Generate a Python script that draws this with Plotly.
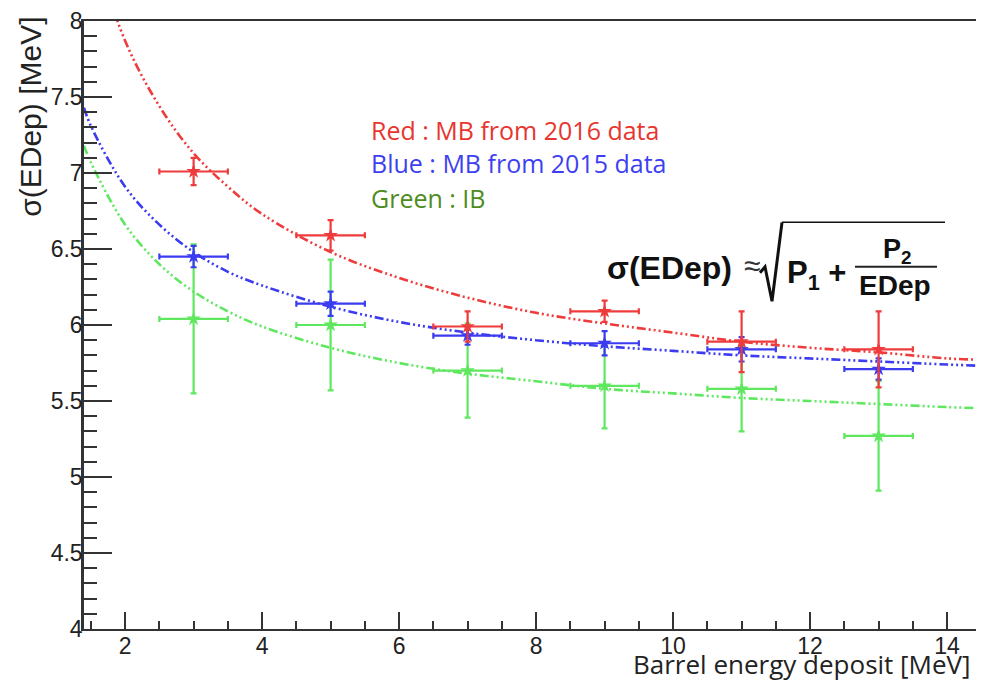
import plotly.graph_objects as go

# ---------------- data ----------------
x_points = [3, 5, 7, 9, 11, 13]
x_err = [0.5, 0.5, 0.5, 0.5, 0.5, 0.5]

red_y = [7.01, 6.59, 5.99, 6.09, 5.89, 5.84]
red_err = [0.09, 0.10, 0.10, 0.07, 0.20, 0.25]

blue_y = [6.45, 6.14, 5.93, 5.88, 5.84, 5.71]
blue_err = [0.07, 0.08, 0.06, 0.08, 0.08, 0.07]

green_y = [6.04, 6.00, 5.70, 5.60, 5.58, 5.27]
green_err = [0.49, 0.43, 0.31, 0.28, 0.28, 0.36]

# fitted curves sigma = sqrt(P1 + P2/EDep)
curve_x = [1.4, 1.5, 2, 2.5, 3, 3.5, 4, 5, 6, 7, 8, 9, 10, 11, 12, 13, 14, 14.6]
red_fit = [8.73, 8.55, 7.87, 7.44, 7.13, 6.91, 6.73, 6.48, 6.31, 6.18, 6.08, 6.01,
           5.95, 5.89, 5.85, 5.82, 5.78, 5.77]
blue_fit = [7.43, 7.31, 6.91, 6.66, 6.48, 6.35, 6.26, 6.12, 6.02, 5.95, 5.90, 5.86,
            5.83, 5.80, 5.78, 5.76, 5.74, 5.73]
green_fit = [7.18, 7.07, 6.66, 6.40, 6.22, 6.09, 5.99, 5.85, 5.75, 5.68, 5.63, 5.58,
             5.55, 5.52, 5.50, 5.48, 5.46, 5.45]

x_tickvals = [2, 4, 6, 8, 10, 12, 14]
x_ticktext = ["2", "4", "6", "8", "10", "12", "14"]
y_tickvals = [4, 4.5, 5, 5.5, 6, 6.5, 7, 7.5, 8]
y_ticktext = ["4", "4.5", "5", "5.5", "6", "6.5", "7", "7.5", "8"]

# ---------------- styling ----------------
OFF = 8  # page body margin
W, H = 984 - OFF, 682 - OFF
ML, MR, MT, MB = 84 - OFF, 0, 5, 53
PW, PH = W - ML - MR, H - MT - MB

RED = "#ef3b3b"
BLUE = "#3b3bef"
GREEN = "#5fe85f"
DASH = "9px,3px,2px,3px,2px,3px,2px,3px"
AX = "#333333"
FONT = "Liberation Sans, Arial, sans-serif"
TXT = "Open Sans, Lato, sans-serif"


def px(x):
    return (x - OFF - ML) / PW


def py(y):
    return (H - MB - (y - OFF)) / PH


fig = go.Figure()

for fy, col in [(red_fit, RED), (blue_fit, BLUE), (green_fit, GREEN)]:
    fig.add_trace(go.Scatter(
        x=curve_x, y=fy, mode="lines",
        line=dict(color=col, width=2.6, dash=DASH, shape="spline", smoothing=1.0),
        hoverinfo="skip"))

for yy, ee, col in [(green_y, green_err, GREEN), (blue_y, blue_err, BLUE), (red_y, red_err, RED)]:
    fig.add_trace(go.Scatter(
        x=x_points, y=yy, mode="markers",
        marker=dict(symbol="star", size=11, color=col),
        error_x=dict(type="data", array=x_err, color=col, thickness=2.2, width=3),
        error_y=dict(type="data", array=ee, color=col, thickness=2.2, width=3)))

annotations = [
    dict(text="Red : MB from 2016 data", x=px(369), y=py(123), xanchor="left", yanchor="middle",
         font=dict(family=TXT, size=25, color="#e8352f")),
    dict(text="Blue : MB from 2015 data", x=px(369), y=py(157), xanchor="left", yanchor="middle",
         font=dict(family=TXT, size=25, color="#3f3ff2")),
    dict(text="Green : IB", x=px(369), y=py(192), xanchor="left", yanchor="middle",
         font=dict(family=TXT, size=25, color="#4d8c1c")),
    dict(text="Barrel energy deposit [MeV]", x=px(973), y=py(664), xanchor="right", yanchor="middle",
         font=dict(family=TXT, size=26, color="#222222")),
    dict(text="σ(EDep) [MeV]", x=px(31), y=py(110), xanchor="center", yanchor="middle",
         textangle=-90, font=dict(family=FONT, size=30, color="#222222")),
    # formula
    dict(text="<b>σ(EDep)</b>", x=px(734), y=py(263), xanchor="right", yanchor="middle",
         font=dict(family=FONT, size=32, color="#111111")),
    dict(text="≈", x=px(752), y=py(261), xanchor="center", yanchor="middle",
         font=dict(family=FONT, size=30, color="#333333")),
    dict(text="<b>P<sub>1</sub> +</b>", x=px(785), y=py(270), xanchor="left", yanchor="middle",
         font=dict(family=FONT, size=31, color="#111111")),
    dict(text="<b>P<sub>2</sub></b>", x=px(897), y=py(246), xanchor="center", yanchor="middle",
         font=dict(family=FONT, size=27, color="#111111")),
    dict(text="<b>EDep</b>", x=px(895), y=py(281), xanchor="center", yanchor="middle",
         font=dict(family=FONT, size=28, color="#111111")),
]
for a in annotations:
    a.update(xref="paper", yref="paper", showarrow=False)

rad = "M {},{} L {},{} L {},{} L {},{}".format(
    px(760), py(268), px(765), py(262), px(772), py(297), px(782), py(217))
shapes = [
    dict(type="path", path=rad, xref="paper", yref="paper",
         line=dict(color="#111111", width=3)),
    dict(type="line", x0=px(782), x1=px(945), y0=py(217), y1=py(217), xref="paper", yref="paper",
         line=dict(color="#111111", width=1.5)),
    dict(type="line", x0=px(855), x1=px(937), y0=py(262), y1=py(262), xref="paper", yref="paper",
         line=dict(color="#222222", width=2)),
]

fig.update_layout(
    width=W, height=H,
    margin=dict(l=ML, r=MR, t=MT, b=MB),
    paper_bgcolor="white", plot_bgcolor="white",
    showlegend=False,
    annotations=annotations, shapes=shapes,
    xaxis=dict(range=[1.4, 1.4 + PW / 68.5], showgrid=False, zeroline=False,
               showline=True, linecolor=AX, linewidth=2, mirror=True,
               ticks="inside", ticklen=17, tickwidth=2, tickcolor=AX,
               tickvals=x_tickvals, ticktext=x_ticktext,
               tickfont=dict(family=FONT, size=23, color="#222222"),
               ticklabelstandoff=-5, ticklabeloverflow="allow",
               minor=dict(dtick=0.5, tick0=0, ticks="inside", ticklen=8, tickwidth=2, tickcolor=AX)),
    yaxis=dict(range=[4, 8], showgrid=False, zeroline=False,
               showline=True, linecolor=AX, linewidth=2.5,
               ticks="inside", ticklen=28, tickwidth=2, tickcolor=AX,
               tickvals=y_tickvals, ticktext=y_ticktext,
               tickfont=dict(family=FONT, size=23, color="#222222"),
               ticklabelstandoff=-6, ticklabeloverflow="allow",
               minor=dict(dtick=0.1, tick0=0, ticks="inside", ticklen=13, tickwidth=2, tickcolor=AX)),
)

fig.write_html("out.html")
